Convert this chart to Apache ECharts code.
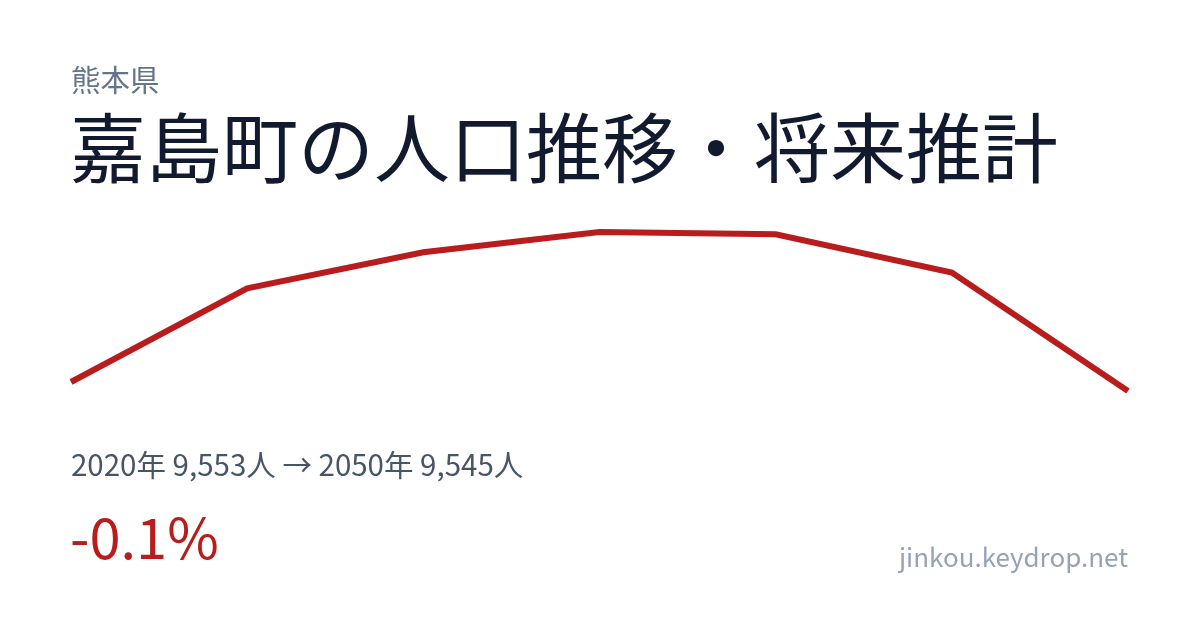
<!DOCTYPE html>
<html><head><meta charset="utf-8">
<script src="https://cdn.jsdelivr.net/npm/echarts@6/dist/echarts.min.js"></script>
<style>html,body{margin:0;padding:0;background:#fff}#c{width:1200px;height:630px}</style>
</head><body><div id="c"></div>
<script>
const years = ['2020','2025','2030','2035','2040','2045','2050'];
const population = [9553, 9636, 9668, 9686, 9684, 9650, 9545];
const prefecture = '熊本県';
const titleText = '嘉島町の人口推移・将来推計';
const summaryText = '2020年 9,553人 → 2050年 9,545人';
const changeText = '-0.1%';
const siteText = 'jinkou.keydrop.net';
const FONT = '"Noto Sans CJK JP", "Noto Sans", sans-serif';
const chart = echarts.init(document.getElementById('c'));
chart.setOption({
  backgroundColor: '#ffffff',
  animation: false,
  grid: {left: 71, right: 72, top: 232, bottom: 239},
  xAxis: {type: 'category', data: years, boundaryGap: false, show: false},
  yAxis: {type: 'value', min: 'dataMin', max: 'dataMax', show: false},
  series: [{
    type: 'line', data: population, symbol: 'none',
    lineStyle: {color: '#b91c1c', width: 6, cap: 'butt', join: 'miter'}
  }],
  graphic: [
    {type: 'text', style: {text: prefecture, x: 71, y: 80, font: '400 29.5px ' + FONT, fill: '#64748b', verticalAlign: 'middle'}},
    {type: 'text', style: {text: titleText, x: 70, y: 148, font: '400 76px ' + FONT, fill: '#111a2e', verticalAlign: 'middle'}},
    {type: 'text', style: {text: summaryText, x: 71, y: 465, font: '400 29.5px ' + FONT, fill: '#475569', verticalAlign: 'middle'}},
    {type: 'text', style: {text: changeText, x: 70, y: 538, font: '400 56px ' + FONT, fill: '#b91c1c', verticalAlign: 'middle'}},
    {type: 'text', style: {text: siteText, x: 1128, y: 557, font: '400 26px ' + FONT, fill: '#94a3b8', verticalAlign: 'middle', align: 'right'}}
  ]
});
</script></body></html>
